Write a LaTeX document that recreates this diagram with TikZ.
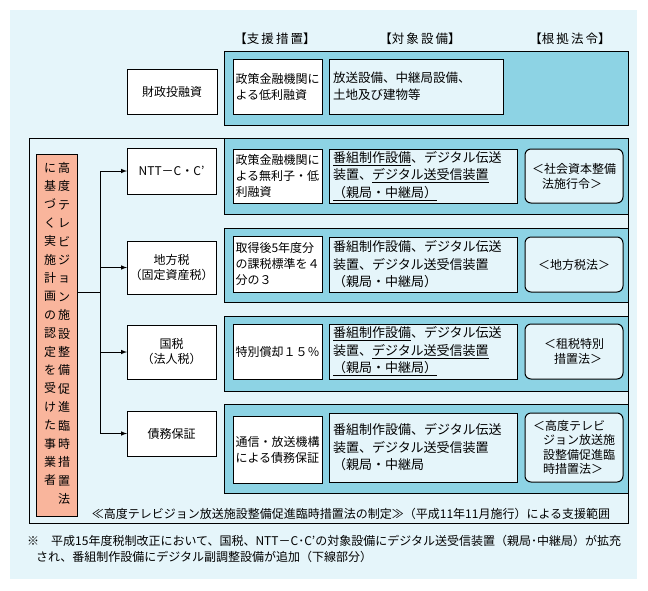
\documentclass[tikz,border=0pt]{standalone}
\usepackage{fontspec}
\setmainfont{Noto Sans CJK JP}
\usepackage{xcolor}
\definecolor{bgcyan}{RGB}{229,245,250}
\definecolor{bandcyan}{RGB}{141,211,228}
\definecolor{salmon}{RGB}{249,181,156}

\begin{document}
\begin{tikzpicture}[x=1pt,y=-1pt]
% Define styles
\tikzstyle{frame}=[draw, line width=1pt, anchor=north west, inner sep=0pt, outer sep=0pt]
\tikzstyle{band}=[frame, fill=bandcyan, minimum width=404pt]
\tikzstyle{item}=[frame, fill=white, minimum width=89pt, font=\fontsize{12}{15}\selectfont, align=center]
\tikzstyle{measure}=[frame, fill=white, inner xsep=2.5pt, text width=84pt, align=left, font=\fontsize{12}{16}\selectfont]
\tikzstyle{target}=[frame, fill=bgcyan, inner xsep=4pt, text width=180pt, align=left, font=\fontsize{13}{17.5}\selectfont]
\tikzstyle{law}=[frame, fill=bgcyan, rounded corners=6pt, minimum width=98pt, align=left, font=\fontsize{12}{15}\selectfont]
\tikzstyle{head}=[font=\fontsize{12.5}{15}\selectfont]
\tikzstyle{wire}=[line width=1pt]
\tikzstyle{arrow}=[wire,->,>=latex]
\useasboundingbox (0,0) rectangle (648,590);
\fill[bgcyan] (10,10) rectangle (637,579);
% Column heads
\node[head] (headsup) at (275,39) {【支\,援\,措\,置】};
\node[head] (headeq) at (420,39) {【対\,象\,設\,備】};
\node[head] (headlaw) at (570,39) {【根\,拠\,法\,令】};
% Top row
\node[band, minimum height=74pt] (band0) at (224,51) {};
\node[item, minimum width=90pt, minimum height=45pt] (zaito) at (127,69) {財政投融資};
\node[measure, minimum height=55pt] (sup0) at (233,59) {政策金融機関に\\よる低利融資};
\node[target, text width=166pt, minimum height=55pt, font=\fontsize{12.5}{17}\selectfont] (eq0) at (329,59) {放送設備、中継局設備、\\土地及び建物等};
% Outer frame and bands
\node[frame, minimum width=599pt, minimum height=385pt] (outer) at (29,138) {};
\node[band, minimum height=76pt] (band1) at (224,138) {};
\node[band, minimum height=74pt] (band2) at (224,228) {};
\node[band, minimum height=75pt] (band3) at (224,316) {};
\node[band, minimum height=89pt] (band4) at (224,404) {};
% Applicant
\node[frame, fill=salmon, minimum width=41pt, minimum height=362pt] (applicant) at (36,154) {};
\node[font=\fontsize{12}{18.4}\selectfont, align=center, inner sep=0pt] (vright) at (64,333.5)
  {高\\度\\テ\\レ\\ビ\\ジ\\ョ\\ン\\施\\設\\整\\備\\促\\進\\臨\\時\\措\\置\\法};
\node[font=\fontsize{12}{18.4}\selectfont, align=center, inner sep=0pt] (vleft) at (50,324.5)
  {に\\基\\づ\\く\\実\\施\\計\\画\\の\\認\\定\\を\\受\\け\\た\\事\\業\\者};
% Measures
\node[item, minimum height=46pt] (ntt) at (127,148) {NTT－C・C’};
\node[item, minimum height=53pt] (chihou) at (127,241) {地方税\\（固定資産税）};
\node[item, minimum height=54pt] (kokuzei) at (127,325) {国税\\（法人税）};
\node[item, minimum height=45pt] (saimu) at (127,411) {債務保証};
% Row 1
\node[measure, minimum height=54pt] (sup1) at (233,149) {政策金融機関に\\よる無利子・低\\利融資};
\node[target, minimum height=54pt] (eq1) at (329,149) {\underline{番組制作設備}、デジタル伝送\\装置、\underline{デジタル送受信装置}\\\underline{（親局・中継局）}};
\node[law, minimum height=54pt] (law1) at (525,149) {＜社会資本整備\\\hspace*{10pt}法施行令＞};
% Row 2
\node[measure, minimum height=56pt] (sup2) at (233,236) {取得後5年度分\\の課税標準を４\\分の３};
\node[target, minimum height=55pt] (eq2) at (329,237) {番組制作設備、デジタル伝送\\装置、デジタル送受信装置\\（親局・中継局）};
\node[law, minimum height=55pt] (law2) at (525,237) {＜地方税法＞};
% Row 3
\node[measure, minimum height=55pt] (sup3) at (233,324) {特別償却１５％};
\node[target, minimum height=55pt] (eq3) at (329,324) {\underline{番組制作設備}、デジタル伝送\\装置、\underline{デジタル送受信装置}\\\underline{（親局・中継局）}};
\node[law, minimum height=55pt] (law3) at (525,324) {＜租税特別\\\hspace*{10pt}措置法＞};
% Row 4
\node[measure, minimum height=67pt] (sup4) at (233,416) {通信・放送機構\\による債務保証};
\node[target, minimum height=69pt] (eq4) at (329,413) {番組制作設備、デジタル伝送\\装置、デジタル送受信装置\\（親局・中継局};
\node[law, minimum height=69pt, font=\fontsize{12}{14.5}\selectfont] (law4) at (525,413) {＜高度テレビ\\\hspace*{10pt}ジョン放送施\\\hspace*{10pt}設整備促進臨\\\hspace*{10pt}時措置法＞};
% Connectors
\coordinate (hub) at (100,292);
\draw[wire] (applicant.east |- hub) -- (hub);
\draw[wire] (hub |- ntt.west) -- (hub |- saimu.west);
\foreach \n in {ntt,chihou,kokuzei,saimu}
  \draw[arrow] (hub |- \n.west) -- (\n.west);
% Caption and note
\node[font=\fontsize{12}{15}\selectfont] (scope) at (351,514) {≪高度テレビジョン放送施設整備促進臨時措置法の制定≫（平成11年11月施行）による支援範囲};
\node[anchor=north west, align=left, inner sep=0pt, font=\fontsize{12}{16}\selectfont] (note) at (27,535)
  {※　平成15年度税制改正において、国税、NTT－C･C’の対象設備にデジタル送受信装置（親局･中継局）が拡充\\\hspace*{9pt}され、番組制作設備にデジタル副調整設備が追加（下線部分）};
\end{tikzpicture}
\end{document}
